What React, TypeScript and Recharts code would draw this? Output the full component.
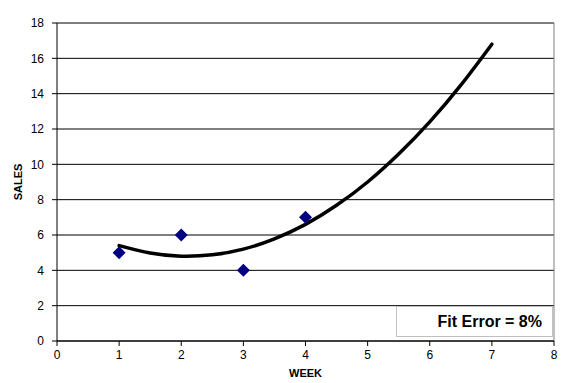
import React from 'react';
import {
  ComposedChart,
  Line,
  Scatter,
  XAxis,
  YAxis,
  CartesianGrid,
  ReferenceLine,
} from 'recharts';

// observed weekly sales
const weeks = [1, 2, 3, 4];
const sales = [5, 6, 4, 7];

// fitted trend curve
const fitWeeks = [1, 1.5, 2, 2.5, 3, 3.5, 4, 4.5, 5, 5.5, 6, 6.5, 7];
const fitSales = [5.4, 4.98, 4.8, 4.88, 5.2, 5.78, 6.6, 7.68, 9.0, 10.58, 12.4, 14.48, 16.8];

const xTicks = [0, 1, 2, 3, 4, 5, 6, 7, 8];
const yTicks = [0, 2, 4, 6, 8, 10, 12, 14, 16, 18];

const fitErrorText = 'Fit Error = 8%';

const points = weeks.map((w, i) => ({ x: w, y: sales[i] }));
const fitLine = fitWeeks.map((w, i) => ({ x: w, fit: fitSales[i] }));

const FONT = '"Liberation Sans", Arial, sans-serif';

const Diamond = (props: any) => {
  const { cx, cy } = props;
  const r = 6.5;
  return (
    <polygon
      points={`${cx},${cy - r} ${cx + r},${cy} ${cx},${cy + r} ${cx - r},${cy}`}
      fill="#000080"
    />
  );
};

export default function App() {
  return (
    <div style={{ position: 'absolute', top: 0, left: 0, width: 565, height: 383, background: '#fff' }}>
      <ComposedChart
        width={565}
        height={383}
        margin={{ top: 23, right: 11, bottom: 6, left: 0 }}
        style={{ fontFamily: FONT }}
      >
        <CartesianGrid vertical={false} stroke="#000" strokeWidth={1} />
        <XAxis
          type="number"
          dataKey="x"
          domain={[0, 8]}
          ticks={xTicks}
          interval={0}
          height={36}
          stroke="#000"
          tickSize={5}
          tickMargin={4}
          tick={{ fill: '#000', fontSize: 12 }}
          allowDuplicatedCategory={false}
          label={{
            value: 'WEEK',
            position: 'insideBottom',
            offset: 0,
            style: { fontWeight: 'bold', fontSize: 11, fill: '#000' },
          }}
        />
        <YAxis
          type="number"
          domain={[0, 18]}
          ticks={yTicks}
          interval={0}
          width={57}
          stroke="#000"
          tickSize={5}
          tickMargin={8}
          tick={{ fill: '#000', fontSize: 12 }}
          label={{
            value: 'SALES',
            angle: -90,
            position: 'insideLeft',
            offset: 18,
            style: { fontWeight: 'bold', fontSize: 11, fill: '#000', textAnchor: 'middle' },
          }}
        />
        <ReferenceLine y={18} stroke="#808080" strokeWidth={1} />
        <ReferenceLine x={8} stroke="#808080" strokeWidth={1} />
        <Line
          data={fitLine}
          dataKey="fit"
          type="natural"
          stroke="#000"
          strokeWidth={3.5}
          strokeLinecap="round"
          dot={false}
          activeDot={false}
          isAnimationActive={false}
        />
        <Scatter data={points} dataKey="y" shape={<Diamond />} isAnimationActive={false} />
      </ComposedChart>
      <div
        style={{
          position: 'absolute',
          left: 396,
          top: 306,
          width: 157,
          height: 31,
          border: '1px solid #c0c0c0',
          background: '#fff',
          fontFamily: FONT,
          fontWeight: 'bold',
          fontSize: 16,
          textAlign: 'right',
          lineHeight: '29px',
          paddingRight: 10,
          boxSizing: 'border-box',
          color: '#000',
        }}
      >
        {fitErrorText}
      </div>
    </div>
  );
}
